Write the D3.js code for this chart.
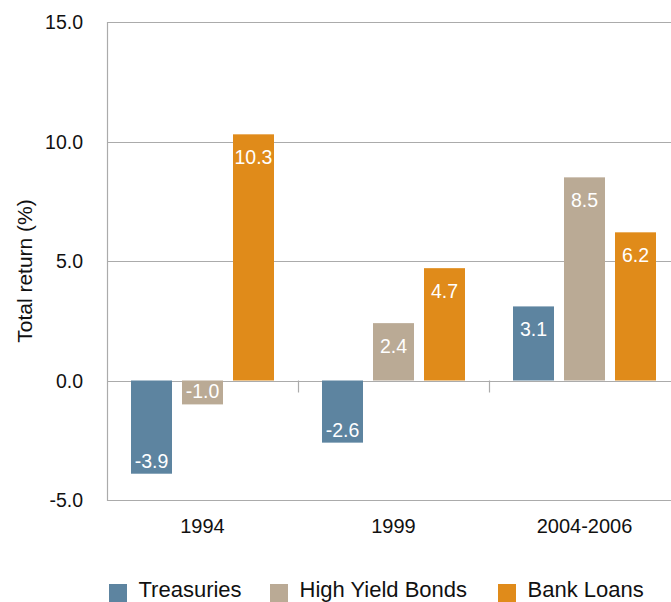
<!DOCTYPE html>
<html><head><meta charset="utf-8">
<script src="https://cdn.jsdelivr.net/npm/d3@7"></script>
<style>body{margin:0;background:#fff;overflow:hidden}svg{display:block}text{font-family:"Liberation Sans",Arial,sans-serif}</style>
</head><body>
<script>
const categories = ["1994", "1999", "2004-2006"];
const seriesNames = ["Treasuries", "High Yield Bonds", "Bank Loans"];
const treasuries = [-3.9, -2.6, 3.1];
const highYield = [-1.0, 2.4, 8.5];
const bankLoans = [10.3, 4.7, 6.2];
const yTicks = [-5, 0, 5, 10, 15];
const colors = ["#5d84a0", "#baaa95", "#e08b1a"];

const W = 671, H = 602;
const svg = d3.select("body").append("svg").attr("width", W).attr("height", H);
const seriesVals = [treasuries, highYield, bankLoans];

const y = d3.scaleLinear().domain([-5, 15]).range([500, 22]);
const x0 = d3.scaleBand().domain(categories).range([107, 680]).paddingInner(0).paddingOuter(0);
const x1 = d3.scaleBand().domain(seriesNames).range([24, x0.bandwidth() - 24]).paddingInner(10 / 51).paddingOuter(0);

const grid = "#ababab";
// gridlines
svg.append("g").selectAll("line").data(yTicks).join("line")
  .attr("x1", 107).attr("x2", W).attr("y1", d => Math.round(y(d)) + 0.5).attr("y2", d => Math.round(y(d)) + 0.5)
  .attr("stroke", grid).attr("stroke-width", 1.2);
// left axis line
svg.append("line").attr("x1", 107.5).attr("x2", 107.5).attr("y1", y(15)).attr("y2", y(-5) + 1)
  .attr("stroke", grid).attr("stroke-width", 1.2);
// category boundary ticks below zero
svg.append("g").selectAll("line").data(categories.slice(1)).join("line")
  .attr("x1", d => Math.round(x0(d)) + 0.5).attr("x2", d => Math.round(x0(d)) + 0.5)
  .attr("y1", y(0)).attr("y2", y(0) + 12).attr("stroke", grid).attr("stroke-width", 1.2);

// y tick labels
svg.append("g").selectAll("text").data(yTicks).join("text")
  .attr("x", 83).attr("y", d => y(d)).attr("dy", "0.36em").attr("text-anchor", "end")
  .attr("font-size", 19.5).attr("fill", "#111").text(d => d.toFixed(1));

// y title
svg.append("text").attr("transform", "translate(31.5,271) rotate(-90)").attr("text-anchor", "middle")
  .attr("font-size", 21).attr("fill", "#111").text("Total return (%)");

// category labels
svg.append("g").selectAll("text").data(categories).join("text")
  .attr("x", d => x0(d) + x0.bandwidth() / 2).attr("y", 533).attr("text-anchor", "middle")
  .attr("font-size", 20).attr("fill", "#111").text(d => d);

// bars
const data = [];
categories.forEach((c, i) => seriesNames.forEach((s, j) => data.push({c, s, j, v: seriesVals[j][i]})));
const g = svg.append("g");
g.selectAll("rect").data(data).join("rect")
  .attr("x", d => x0(d.c) + x1(d.s)).attr("width", x1.bandwidth())
  .attr("y", d => y(Math.max(0, d.v))).attr("height", d => Math.abs(y(d.v) - y(0)))
  .attr("fill", d => colors[d.j]);
g.selectAll("text").data(data).join("text")
  .attr("x", d => x0(d.c) + x1(d.s) + x1.bandwidth() / 2)
  .attr("y", d => d.v >= 0 ? y(d.v) + 30 : y(d.v) - 6)
  .attr("text-anchor", "middle").attr("font-size", 19.5).attr("fill", "#fff")
  .text(d => d.v.toFixed(1));

// legend
const legX = [109, 270, 498];
const leg = svg.append("g").selectAll("g").data(seriesNames).join("g")
  .attr("transform", (d, i) => `translate(${legX[i]},584)`);
leg.append("rect").attr("width", 18).attr("height", 18).attr("fill", (d, i) => colors[i]);
leg.append("text").attr("x", 29.5).attr("y", 13).attr("font-size", 22).attr("fill", "#111").text(d => d);
</script>
</body></html>
